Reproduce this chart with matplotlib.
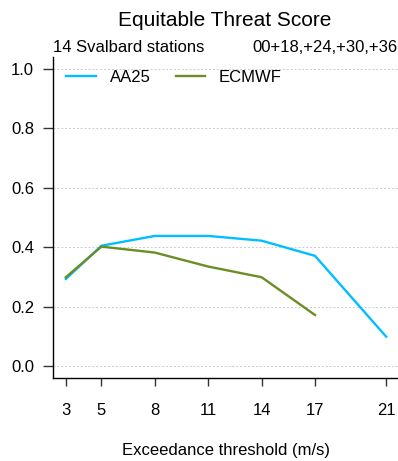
import matplotlib
matplotlib.use("Agg")
import matplotlib.pyplot as plt

plt.rcParams['font.family'] = ['Liberation Sans', 'DejaVu Sans']

thresholds = [3, 5, 8, 11, 14, 17, 21]
aa25 = [0.293, 0.405, 0.438, 0.438, 0.422, 0.371, 0.099]
ecmwf_thr = [3, 5, 8, 11, 14, 17]
ecmwf = [0.299, 0.402, 0.382, 0.335, 0.299, 0.172]
y_ticks = [0.0, 0.2, 0.4, 0.6, 0.8, 1.0]

fig = plt.figure(figsize=(3.98, 4.61), dpi=100)
ax = fig.add_axes([53 / 398, 83 / 461, 346 / 398, 321 / 461])

ax.set_xlim(2.28, 21.72)
ax.set_ylim(-0.04, 1.04)

for y in y_ticks:
    ax.axhline(y, color='#cccccc', lw=0.7, ls=(0, (2, 2)), zorder=0)

ax.plot(thresholds, aa25, color='#00BFFF', lw=1.7, label='AA25')
ax.plot(ecmwf_thr, ecmwf, color='#6B8E23', lw=1.7, label='ECMWF')

for side in ('top', 'right'):
    ax.spines[side].set_visible(False)
for side in ('left', 'bottom'):
    ax.spines[side].set_color('black')
    ax.spines[side].set_linewidth(1.0)

ax.set_xticks(thresholds)
ax.set_xticklabels([str(t) for t in thresholds])
ax.set_yticks(y_ticks)
ax.set_yticklabels([f"{v:.1f}" for v in y_ticks])
ax.tick_params(axis='x', length=6, width=1.0, color='#333333', pad=12, labelsize=12)
ax.tick_params(axis='y', length=7.5, width=1.0, color='#333333', pad=6, labelsize=12)

ax.set_xlabel('Exceedance threshold (m/s)', fontsize=12, labelpad=18)

fig.text(225 / 398, 1 - 20 / 461, 'Equitable Threat Score', ha='center', va='center', fontsize=15)
fig.text(53 / 398, 1 - 47 / 461, '14 Svalbard stations', ha='left', va='center', fontsize=12)
fig.text(252 / 398, 1 - 47 / 461, '00+18,+24,+30,+36', ha='left', va='center', fontsize=12)

ax.legend(loc='upper left', ncol=2, frameon=False, fontsize=12,
          handlelength=1.75, handletextpad=0.85, columnspacing=1.5,
          bbox_to_anchor=(0.0, 1.0), borderaxespad=0.4)

fig.savefig('out.png', dpi=100)
